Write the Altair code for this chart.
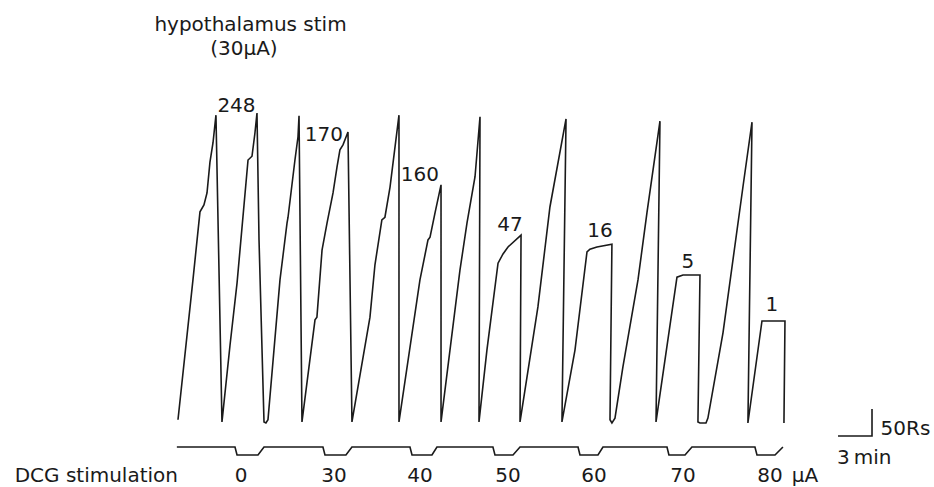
import altair as alt
import pandas as pd

# Cumulative record (time in min, cumulative responses)
trace_t = [0.0, 1.32, 1.94, 2.29, 2.56, 2.82, 3.09, 3.35, 3.88, 4.59, 5.21, 6.18, 6.53, 6.79, 6.97,
           7.15, 7.59, 7.76, 7.94, 9.0, 9.62, 9.71, 10.32, 10.59, 10.68, 10.94, 12.09, 12.26, 12.71,
           13.15, 13.68, 14.03, 14.29, 14.56, 15.0, 15.35, 16.94, 17.38, 17.99, 18.26, 18.71, 19.5,
           19.5, 21.35, 22.06, 22.24, 22.68, 23.21, 23.21, 24.88, 25.5, 26.21, 26.65, 26.56, 27.26,
           28.24, 28.68, 29.12, 30.27, 30.18, 31.76, 32.82, 34.24, 33.88, 35.03, 36.09, 36.35, 36.97,
           38.29, 38.12, 38.29, 38.56, 39.26, 40.59, 41.38, 42.53, 42.18, 44.03, 44.56, 46.06, 45.88,
           46.06, 46.59, 46.76, 48.09, 49.85, 50.65, 50.29, 51.53, 53.56, 53.47]
trace_r = [6, 265, 391, 404, 426, 483, 519, 570, 2, 144, 259, 487, 494, 537, 574,
           339, 2, 0, 6, 265, 370, 381, 487, 530, 569, 2, 191, 196, 320,
           370, 426, 474, 506, 515, 539, 2, 196, 293, 376, 381, 437, 570,
           2, 265, 339, 344, 389, 441, 2, 283, 370, 456, 567, 2, 135,
           296, 313, 326, 348, 2, 215, 400, 563, 2, 135, 317, 322, 326,
           331, 6, 0, 9, 104, 265, 389, 559, 2, 270, 274, 274, 2,
           0, 0, 9, 167, 437, 557, 0, 189, 189, 0]

# Response counts written above the DCG-stimulation cycles
count_labels = ["248", "170", "160", "47", "16", "5", "1"]
count_t = [5.16, 12.88, 21.35, 29.3, 37.24, 45.0, 52.41]
count_r = [576, 522, 448, 356, 344, 287, 207]

# DCG stimulation marker trace (1 = off, 0 = on)
stim_t = [-0.1, 5.03, 5.21, 7.06, 7.59, 12.79, 12.97, 14.82, 15.35, 20.47, 20.65, 22.41, 22.85,
          27.79, 27.97, 29.56, 30.18, 35.3, 35.47, 37.06, 37.5, 43.15, 43.32, 44.74, 45.35,
          50.91, 51.09, 52.68, 53.38]
stim_level = [1, 1, 0, 0, 1, 1, 0, 0, 1, 1, 0, 0, 1,
              1, 0, 0, 1, 1, 0, 0, 1, 1, 0, 0, 1,
              1, 0, 0, 1]

# DCG currents (µA)
dcg_labels = ["0", "30", "40", "50", "60", "70", "80"]
dcg_t = [5.56, 13.77, 21.35, 29.12, 36.71, 44.56, 52.24]

# Scale bar: 3 min x 50 responses
bar_t = [58.24, 61.24, 61.24]
bar_r = [-24, -24, 26]

FONT = "DejaVu Sans"
INK = "#1a1a1a"
FS = 20
LW = 1.6

X = alt.X("t:Q", scale=alt.Scale(domain=[-15.706, 66.71], nice=False, zero=False), axis=None)
YS = alt.Scale(domain=[-118.5, 783.3], nice=False, zero=False)
YSTIM = alt.Scale(domain=[-4, 56.875], nice=False, zero=False)

trace_df = pd.DataFrame({"t": trace_t, "r": trace_r, "i": range(len(trace_t))})
trace = alt.Chart(trace_df).mark_line(color=INK, strokeWidth=LW).encode(
    x=X, y=alt.Y("r:Q", scale=YS, axis=None), order="i:Q")

counts_df = pd.DataFrame({"t": count_t, "r": count_r, "lab": count_labels})
counts = alt.Chart(counts_df).mark_text(font=FONT, fontSize=FS, color=INK, align="center",
                                        baseline="alphabetic").encode(
    x=X, y=alt.Y("r:Q", scale=YS, axis=None), text="lab:N")

title_df = pd.DataFrame({"t": [6.4, 5.82], "r": [726, 681],
                         "lab": ["hypothalamus stim", "(30μA)"]})
title = alt.Chart(title_df).mark_text(font=FONT, fontSize=FS, color=INK, align="center",
                                      baseline="alphabetic").encode(
    x=X, y=alt.Y("r:Q", scale=YS, axis=None), text="lab:N")

bar_df = pd.DataFrame({"t": bar_t, "r": bar_r, "i": [0, 1, 2]})
bar = alt.Chart(bar_df).mark_line(color=INK, strokeWidth=LW).encode(
    x=X, y=alt.Y("r:Q", scale=YS, axis=None), order="i:Q")

bar_text_df = pd.DataFrame({"t": [62.0, 58.15], "r": [-22, -76], "lab": ["50Rs", "3\u2009min"]})
bar_text = alt.Chart(bar_text_df).mark_text(font=FONT, fontSize=FS, color=INK, align="left",
                                            baseline="alphabetic").encode(
    x=X, y=alt.Y("r:Q", scale=YS, axis=None), text="lab:N")

stim_df = pd.DataFrame({"t": stim_t, "lv": stim_level, "i": range(len(stim_t))})
stim = alt.Chart(stim_df).mark_line(color=INK, strokeWidth=LW).encode(
    x=X, y=alt.Y("lv:Q", scale=YSTIM, axis=None), order="i:Q")

dcg_df = pd.DataFrame({"t": dcg_t + [55.33], "lv": [-3.85] * 8, "lab": dcg_labels + ["μA"]})
dcg = alt.Chart(dcg_df).mark_text(font=FONT, fontSize=FS, color=INK, align="center",
                                  baseline="bottom").encode(
    x=X, y=alt.Y("lv:Q", scale=YSTIM, axis=None), text="lab:N")

dcg_title_df = pd.DataFrame({"t": [0.0], "lv": [-3.85], "lab": ["DCG stimulation"]})
dcg_title = alt.Chart(dcg_title_df).mark_text(font=FONT, fontSize=FS, color=INK, align="right",
                                              baseline="bottom").encode(
    x=X, y=alt.Y("lv:Q", scale=YSTIM, axis=None), text="lab:N")

chart = alt.layer(trace, counts, title, bar, bar_text, stim, dcg, dcg_title).resolve_scale(
    y="independent"
).properties(
    width=934, height=487, autosize=alt.AutoSizeParams(type="none"), padding=0,
    background="white"
).configure_view(stroke=None)

chart.save("out.html", embed_options={"renderer": "svg", "actions": False})
